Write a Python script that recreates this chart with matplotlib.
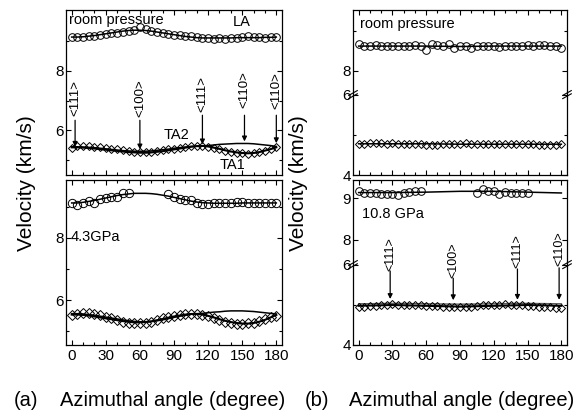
import matplotlib
matplotlib.use("Agg")
import matplotlib.pyplot as plt
from matplotlib.ticker import FixedLocator, MultipleLocator

plt.rcParams['font.family'] = ['Liberation Sans', 'DejaVu Sans']

# azimuthal angles, 5 degree steps
ang = list(range(0, 181, 5))

# (a) room pressure
LA_a_rp = [9.15, 9.14, 9.15, 9.17, 9.19, 9.22, 9.24, 9.26, 9.28, 9.30, 9.33, 9.38, 9.47, 9.40,
           9.33, 9.30, 9.28, 9.25, 9.22, 9.21, 9.18, 9.17, 9.14, 9.12, 9.12, 9.09, 9.11, 9.07,
           9.12, 9.10, 9.15, 9.17, 9.15, 9.14, 9.12, 9.13, 9.14]
fit_LA_a_rp = [9.14, 9.14, 9.15, 9.17, 9.19, 9.22, 9.25, 9.28, 9.31, 9.34, 9.36, 9.37, 9.37, 9.36,
               9.34, 9.31, 9.28, 9.25, 9.22, 9.19, 9.16, 9.14, 9.12, 9.11, 9.11, 9.11, 9.11, 9.11,
               9.11, 9.12, 9.12, 9.12, 9.12, 9.12, 9.13, 9.13, 9.14]
TA_a_rp = [5.42, 5.46, 5.47, 5.46, 5.45, 5.44, 5.42, 5.39, 5.36, 5.34, 5.31, 5.29, 5.27, 5.27,
           5.28, 5.30, 5.33, 5.36, 5.39, 5.42, 5.45, 5.47, 5.49, 5.48, 5.44, 5.40, 5.36, 5.32,
           5.28, 5.25, 5.23, 5.22, 5.23, 5.26, 5.31, 5.37, 5.43]
fit_TA1_a_rp = [5.43, 5.43, 5.42, 5.41, 5.39, 5.37, 5.35, 5.33, 5.31, 5.29, 5.27, 5.26, 5.25, 5.25,
                5.26, 5.28, 5.30, 5.33, 5.36, 5.39, 5.42, 5.45, 5.47, 5.48, 5.46, 5.42, 5.38, 5.33,
                5.29, 5.26, 5.24, 5.23, 5.24, 5.27, 5.32, 5.37, 5.43]
fit_TA2_a_rp = [5.45, 5.45, 5.44, 5.43, 5.42, 5.40, 5.38, 5.36, 5.34, 5.32, 5.31, 5.30, 5.30, 5.30,
                5.31, 5.33, 5.35, 5.37, 5.40, 5.42, 5.44, 5.46, 5.47, 5.48, 5.49, 5.51, 5.53, 5.54,
                5.55, 5.56, 5.56, 5.56, 5.55, 5.53, 5.51, 5.49, 5.46]

# (a) 4.3 GPa
ang_LA_a_43 = [0, 5, 10, 15, 20, 25, 30, 35, 40, 45, 50,
               85, 90, 95, 100, 105, 110, 115, 120, 125, 130, 135, 140, 145, 150, 155, 160, 165,
               170, 175, 180]
LA_a_43 = [9.12, 9.06, 9.12, 9.19, 9.13, 9.26, 9.30, 9.31, 9.33, 9.46, 9.44,
           9.41, 9.33, 9.27, 9.22, 9.22, 9.13, 9.10, 9.10, 9.12, 9.12, 9.14, 9.14, 9.15, 9.15,
           9.14, 9.14, 9.14, 9.14, 9.14, 9.13]
fit_LA_a_43 = [9.13, 9.13, 9.15, 9.18, 9.21, 9.25, 9.29, 9.33, 9.37, 9.40, 9.42, 9.44, 9.44, 9.44,
               9.43, 9.41, 9.38, 9.35, 9.31, 9.27, 9.23, 9.19, 9.16, 9.14, 9.13, 9.12, 9.12, 9.12,
               9.12, 9.12, 9.13, 9.13, 9.13, 9.13, 9.13, 9.13, 9.13]
TA_a_43 = [5.52, 5.55, 5.59, 5.59, 5.55, 5.52, 5.46, 5.41, 5.36, 5.30, 5.27, 5.25, 5.25, 5.27,
           5.30, 5.36, 5.41, 5.46, 5.48, 5.52, 5.54, 5.55, 5.55, 5.53, 5.48, 5.41, 5.36, 5.30,
           5.27, 5.23, 5.23, 5.25, 5.27, 5.33, 5.39, 5.44, 5.50]
fit_TA1_a_43 = [5.53, 5.53, 5.52, 5.50, 5.47, 5.44, 5.41, 5.38, 5.35, 5.32, 5.30, 5.28, 5.28, 5.29,
                5.31, 5.35, 5.39, 5.43, 5.47, 5.50, 5.53, 5.55, 5.55, 5.53, 5.49, 5.44, 5.38, 5.33,
                5.29, 5.26, 5.24, 5.24, 5.26, 5.30, 5.36, 5.44, 5.52]
fit_TA2_a_43 = [5.56, 5.56, 5.55, 5.53, 5.51, 5.48, 5.45, 5.42, 5.39, 5.36, 5.33, 5.31, 5.30, 5.30,
                5.31, 5.33, 5.36, 5.40, 5.44, 5.48, 5.51, 5.54, 5.56, 5.57, 5.59, 5.61, 5.62, 5.64,
                5.65, 5.65, 5.65, 5.64, 5.63, 5.61, 5.59, 5.57, 5.55]

# (b) room pressure
LA_b_rp = [8.66, 8.61, 8.62, 8.64, 8.62, 8.61, 8.62, 8.62, 8.63, 8.62, 8.64, 8.61, 8.53, 8.67,
           8.64, 8.62, 8.66, 8.57, 8.63, 8.62, 8.58, 8.61, 8.61, 8.62, 8.61, 8.60, 8.62, 8.61,
           8.63, 8.62, 8.64, 8.62, 8.64, 8.65, 8.63, 8.62, 8.58]
TA_b_rp = [4.77, 4.78, 4.79, 4.79, 4.79, 4.78, 4.79, 4.78, 4.78, 4.78, 4.77, 4.77, 4.76, 4.76,
           4.76, 4.77, 4.78, 4.77, 4.78, 4.79, 4.78, 4.78, 4.77, 4.78, 4.78, 4.77, 4.78, 4.77,
           4.77, 4.77, 4.78, 4.77, 4.76, 4.76, 4.76, 4.76, 4.77]
ang_fit_b = [0, 30, 60, 90, 120, 150, 180]
fit_LA_b_rp = [8.62, 8.62, 8.62, 8.61, 8.62, 8.62, 8.62]
fit_TA_b_rp = [4.78, 4.78, 4.78, 4.77, 4.77, 4.77, 4.77]

# (b) 10.8 GPa
ang_LA_b_108 = [0, 5, 10, 15, 20, 25, 30, 35, 40, 45, 50, 55,
                105, 110, 115, 120, 125, 130, 135, 140, 145, 150]
LA_b_108 = [9.17, 9.13, 9.11, 9.11, 9.10, 9.10, 9.10, 9.07, 9.11, 9.15, 9.17, 9.17,
            9.13, 9.21, 9.17, 9.17, 9.10, 9.14, 9.13, 9.13, 9.13, 9.13]
fit_LA_b_108 = [9.13, 9.13, 9.14, 9.16, 9.16, 9.14, 9.12]
TA_b_108 = [4.94, 4.96, 4.97, 4.98, 4.99, 5.00, 5.02, 5.01, 5.00, 5.00, 5.00, 4.99, 4.98, 4.97,
            4.97, 4.96, 4.96, 4.94, 4.95, 4.96, 4.96, 4.98, 4.99, 4.99, 4.99, 5.00, 5.02, 5.00,
            4.99, 4.99, 4.98, 4.97, 4.96, 4.95, 4.94, 4.93, 4.93]
fit_TA1_b_108 = [4.98, 5.00, 4.98, 4.96, 4.98, 5.00, 4.98]
fit_TA2_b_108 = [5.03, 5.04, 5.03, 5.02, 5.03, 5.04, 5.03]

# direction labels: (angle, label, text y, arrow start, arrow tip)
dirs_a = [(3, '<111>', 7.10, 6.34, 5.45), (60, '<100>', 7.08, 6.34, 5.36),
          (115, '<111>', 7.24, 6.51, 5.53), (152, '<110>', 7.36, 6.51, 5.63),
          (180, '<110>', 7.34, 6.51, 5.57)]
dirs_b = [(28, '<111>', 6.26, 5.85, 5.15), (84, '<100>', 6.12, 5.67, 5.12),
          (141, '<111>', 6.35, 5.90, 5.13), (178, '<110>', 6.40, 5.93, 5.13)]

W, H = 578, 417
fig = plt.figure(figsize=(W / 100, H / 100), dpi=100)


def box(x0, y0, x1, y1):
    return fig.add_axes([x0 / W, 1 - y1 / H, (x1 - x0) / W, (y1 - y0) / H])


def style(ax, xlabels=False, top=True, bottom=True):
    ax.set_xlim(-5, 185)
    ax.xaxis.set_major_locator(MultipleLocator(30))
    ax.xaxis.set_minor_locator(MultipleLocator(10))
    ax.tick_params(which='both', direction='in', top=top, bottom=bottom,
                   right=True, labelsize=11, width=0.8)
    ax.tick_params(which='major', length=3.5)
    ax.tick_params(which='minor', length=2)
    ax.tick_params(axis='x', labelbottom=xlabels, pad=3)
    ax.tick_params(axis='y', pad=1.5)
    for s in ax.spines.values():
        s.set_linewidth(0.9)


circ = dict(marker='o', ms=5.5, mfc='none', mec='k', mew=0.7, ls='none')
diam = dict(marker='D', ms=4.3, mfc='none', mec='k', mew=0.7, ls='none')
line = dict(color='k', lw=1.1)

# ---- (a) room pressure
ax1 = box(66, 10, 282, 175)
ax1.plot(ang, fit_LA_a_rp, **line)
ax1.plot(ang, fit_TA1_a_rp, color='k', lw=1.5)
ax1.plot(ang, fit_TA2_a_rp, **line)
ax1.plot(ang, LA_a_rp, **circ)
ax1.plot(ang, TA_a_rp, **diam)
ax1.set_ylim(4.5, 10.05)
ax1.yaxis.set_major_locator(FixedLocator([6, 8]))
ax1.yaxis.set_minor_locator(FixedLocator([5, 7, 9]))
style(ax1)
ax1.text(0.012, 0.94, 'room pressure', transform=ax1.transAxes, fontsize=10.5, va='center')
ax1.text(0.77, 0.925, 'LA', transform=ax1.transAxes, fontsize=10.5, va='center')
ax1.text(0.45, 0.24, 'TA2', transform=ax1.transAxes, fontsize=10.5, va='center')
ax1.text(0.712, 0.06, 'TA1', transform=ax1.transAxes, fontsize=10.5, va='center')
for a, lab, ty, y0, y1 in dirs_a:
    ax1.text(a, ty, lab, rotation=90, ha='center', va='center', fontsize=9.5)
    ax1.annotate('', xy=(a, y1), xytext=(a, y0),
                 arrowprops=dict(arrowstyle='-|>', color='k', lw=0.9, mutation_scale=7,
                                 shrinkA=0, shrinkB=0))

# ---- (a) 4.3 GPa
ax2 = box(66, 180, 282, 345)
ax2.plot(ang, fit_LA_a_43, **line)
ax2.plot(ang, fit_TA1_a_43, color='k', lw=1.5)
ax2.plot(ang, fit_TA2_a_43, **line)
ax2.plot(ang_LA_a_43, LA_a_43, **dict(circ, ms=6))
ax2.plot(ang, TA_a_43, **dict(diam, ms=4.8))
ax2.set_ylim(4.55, 9.87)
ax2.yaxis.set_major_locator(FixedLocator([6, 8]))
ax2.yaxis.set_minor_locator(FixedLocator([5, 7, 9]))
style(ax2, xlabels=True)
ax2.text(0.02, 0.655, '4.3GPa', transform=ax2.transAxes, fontsize=10.5, va='center')

# ---- (b) room pressure, broken axis
ax3u = box(353, 10, 567, 95)
ax3l = box(353, 95, 567, 175)
ax3u.plot(ang_fit_b, fit_LA_b_rp, **line)
ax3u.plot(ang, LA_b_rp, **circ)
ax3u.set_ylim(7.4, 9.52)
ax3u.yaxis.set_major_locator(FixedLocator([8]))
ax3u.yaxis.set_minor_locator(FixedLocator([9]))
style(ax3u, bottom=False)
ax3u.spines['bottom'].set_visible(False)
ax3u.text(0.033, 0.835, 'room pressure', transform=ax3u.transAxes, fontsize=10.5, va='center')

ax3l.plot(ang_fit_b, fit_TA_b_rp, **line)
ax3l.plot(ang, TA_b_rp, **diam)
ax3l.set_ylim(4, 6)
ax3l.yaxis.set_major_locator(FixedLocator([4, 6]))
ax3l.yaxis.set_minor_locator(FixedLocator([5]))
style(ax3l, top=False)
ax3l.spines['top'].set_visible(False)

# ---- (b) 10.8 GPa, broken axis
ax4u = box(353, 180, 567, 265)
ax4l = box(353, 265, 567, 345)
ax4u.set_facecolor('none')
ax4u.plot(ang_fit_b, fit_LA_b_108, **line)
ax4u.plot(ang_LA_b_108, LA_b_108, **circ)
ax4u.set_ylim(7.4, 9.43)
ax4u.yaxis.set_major_locator(FixedLocator([8, 9]))
ax4u.yaxis.set_minor_locator(FixedLocator([]))
style(ax4u, bottom=False)
ax4u.spines['bottom'].set_visible(False)
ax4u.text(0.042, 0.6, '10.8 GPa', transform=ax4u.transAxes, fontsize=10.5, va='center')

ax4l.set_facecolor('none')
ax4l.plot(ang_fit_b, fit_TA1_b_108, color='k', lw=1.5)
ax4l.plot(ang_fit_b, fit_TA2_b_108, color='0.35', lw=1.0)
ax4l.plot(ang, TA_b_108, **diam)
ax4l.set_ylim(4, 6)
ax4l.yaxis.set_major_locator(FixedLocator([4, 6]))
ax4l.yaxis.set_minor_locator(FixedLocator([5]))
style(ax4l, xlabels=True, top=False)
ax4l.spines['top'].set_visible(False)
for a, lab, ty, y0, y1 in dirs_b:
    ax4l.text(a, ty, lab, rotation=90, ha='center', va='center', fontsize=9, clip_on=False)
    ax4l.annotate('', xy=(a, y1), xytext=(a, y0), annotation_clip=False,
                  arrowprops=dict(arrowstyle='-|>', color='k', lw=0.9, mutation_scale=7,
                                  shrinkA=0, shrinkB=0))

# break marks on the broken axes
for ax in (ax3l, ax4l):
    for xs in (0, 1):
        for dy in (-0.015, 0.025):
            ax.plot([xs - 0.02, xs + 0.02], [1 + dy - 0.03, 1 + dy + 0.03],
                    transform=ax.transAxes, color='k', lw=0.8, clip_on=False)

fig.text(26 / W, 0.562, 'Velocity (km/s)', rotation=90, ha='center', va='center', fontsize=15)
fig.text(299 / W, 0.562, 'Velocity (km/s)', rotation=90, ha='center', va='center', fontsize=15)
fig.text(26 / W, 1 - 401 / H, '(a)', ha='center', va='center', fontsize=14.5)
fig.text(173 / W, 1 - 401 / H, 'Azimuthal angle (degree)', ha='center', va='center', fontsize=14.5)
fig.text(317 / W, 1 - 401 / H, '(b)', ha='center', va='center', fontsize=14.5)
fig.text(462 / W, 1 - 401 / H, 'Azimuthal angle (degree)', ha='center', va='center', fontsize=14.5)

fig.savefig('out.png', dpi=100)
